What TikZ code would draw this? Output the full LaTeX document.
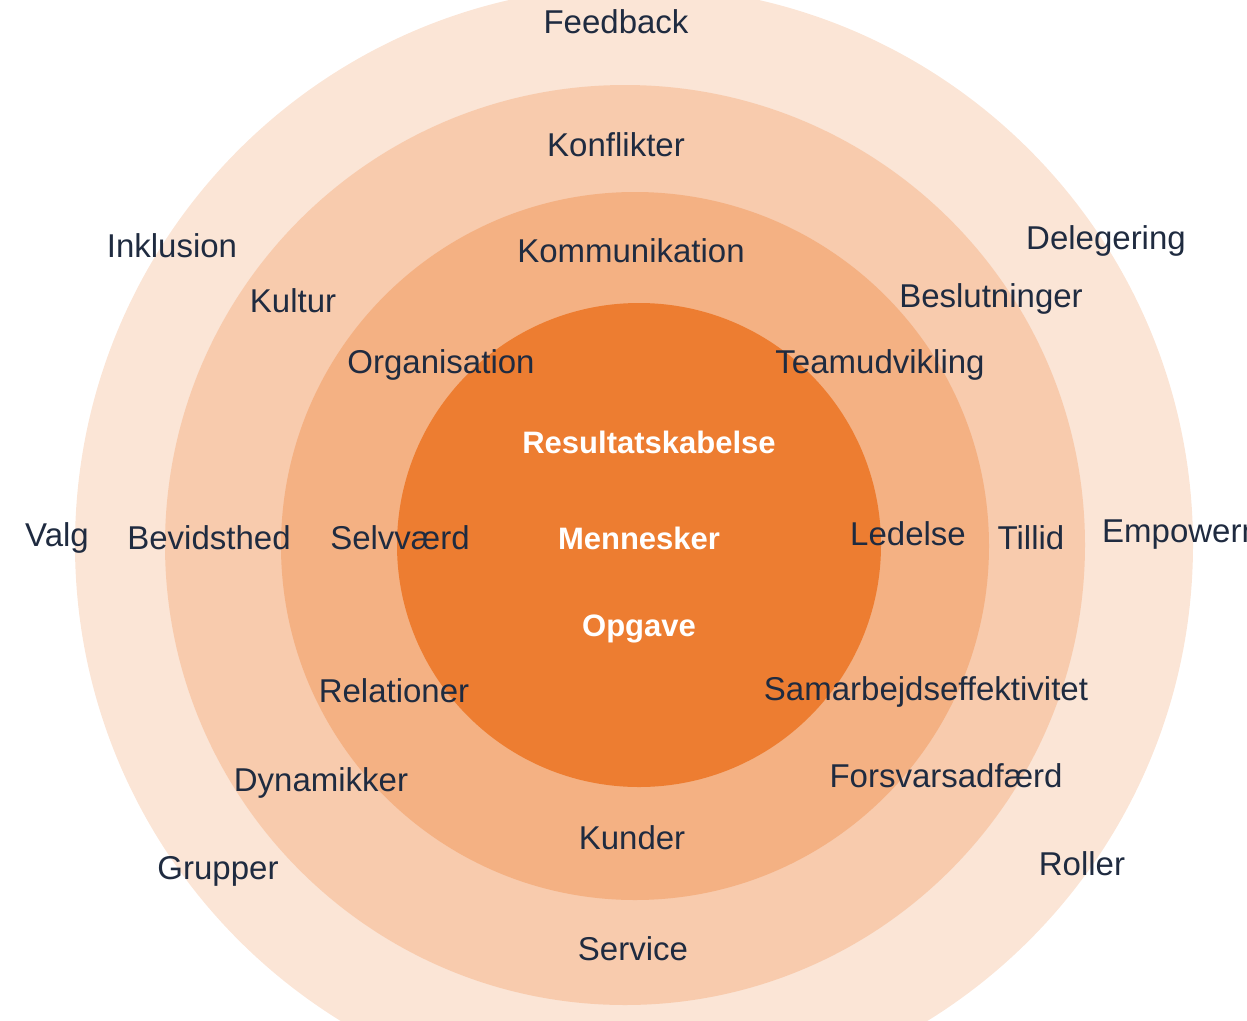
\documentclass[tikz,border=0pt]{standalone}
\usepackage{fontspec}
\setmainfont{Liberation Sans}
\usepackage{xcolor}
\usepackage{tikz}

\definecolor{ringA}{HTML}{FBE5D6}
\definecolor{ringB}{HTML}{F8CBAD}
\definecolor{ringC}{HTML}{F4B183}
\definecolor{core}{HTML}{ED7D31}
\definecolor{navy}{HTML}{1F2B40}

\begin{document}
\begin{tikzpicture}[
    x=1pt, y=-1pt,
    word/.style={text=navy, inner sep=0pt, font=\fontsize{33}{40}\selectfont},
    coreword/.style={text=white, inner sep=0pt, font=\fontsize{31}{38}\selectfont\bfseries},
]

    \def\ra{559}     % outer ring
    \def\rb{460}     % second ring
    \def\rc{354}     % third ring
    \def\rd{242}     % the core

    \useasboundingbox (0,0) rectangle (1247,1020);
    \clip (0,0) rectangle (1247,1020);

    % =============================================================
    % The four discs, from the outside in
    % =============================================================
    \fill[ringA] (634,545) circle (\ra);
    \fill[ringB] (625,545) circle (\rb);
    \fill[ringC] (635,546) circle (\rc);
    \fill[core]  (639,545) circle (\rd);

    % =============================================================
    % Outer ring
    % =============================================================
    \node[word] (feedback)   at (616,22)  {Feedback};
    \node[word] (inklusion)  at (172,246) {Inklusion};
    \node[word] (delegering) at (1106,241) {Delegering};
    \node[word] (valg)       at (57,538)  {Valg};
    \node[word, anchor=west] (empower) at (1102,535) {Empowerment};
    \node[word] (grupper)    at (218,871) {Grupper};
    \node[word] (roller)     at (1082,864) {Roller};

    % =============================================================
    % Second ring
    % =============================================================
    \node[word] (konflikter) at (616,145) {Konflikter};
    \node[word] (kultur)     at (293,301) {Kultur};
    \node[word] (beslut)     at (991,299) {Beslutninger};
    \node[word] (bevidst)    at (209,538) {Bevidsthed};
    \node[word] (tillid)     at (1031,538) {Tillid};
    \node[word] (dynamik)    at (321,783) {Dynamikker};
    \node[word] (forsvar)    at (946,776) {Forsvarsadfærd};
    \node[word] (service)    at (633,949) {Service};

    % =============================================================
    % Third ring
    % =============================================================
    \node[word] (kommunik)   at (631,251) {Kommunikation};
    \node[word] (organis)    at (441,365) {Organisation};
    \node[word] (teamudv)    at (880,365) {Teamudvikling};
    \node[word] (selv)       at (400,538) {Selvværd};
    \node[word] (ledelse)    at (908,534) {Ledelse};
    \node[word] (relation)   at (394,691) {Relationer};
    \node[word] (samarb)     at (926,692) {Samarbejdseffektivitet};
    \node[word] (kunder)     at (632,838) {Kunder};

    % =============================================================
    % The core
    % =============================================================
    \node[coreword] (result)   at (649,442) {Resultatskabelse};
    \node[coreword] (mennesk)  at (639,538) {Mennesker};
    \node[coreword] (opgave)   at (639,629) {Opgave};

\end{tikzpicture}
\end{document}
